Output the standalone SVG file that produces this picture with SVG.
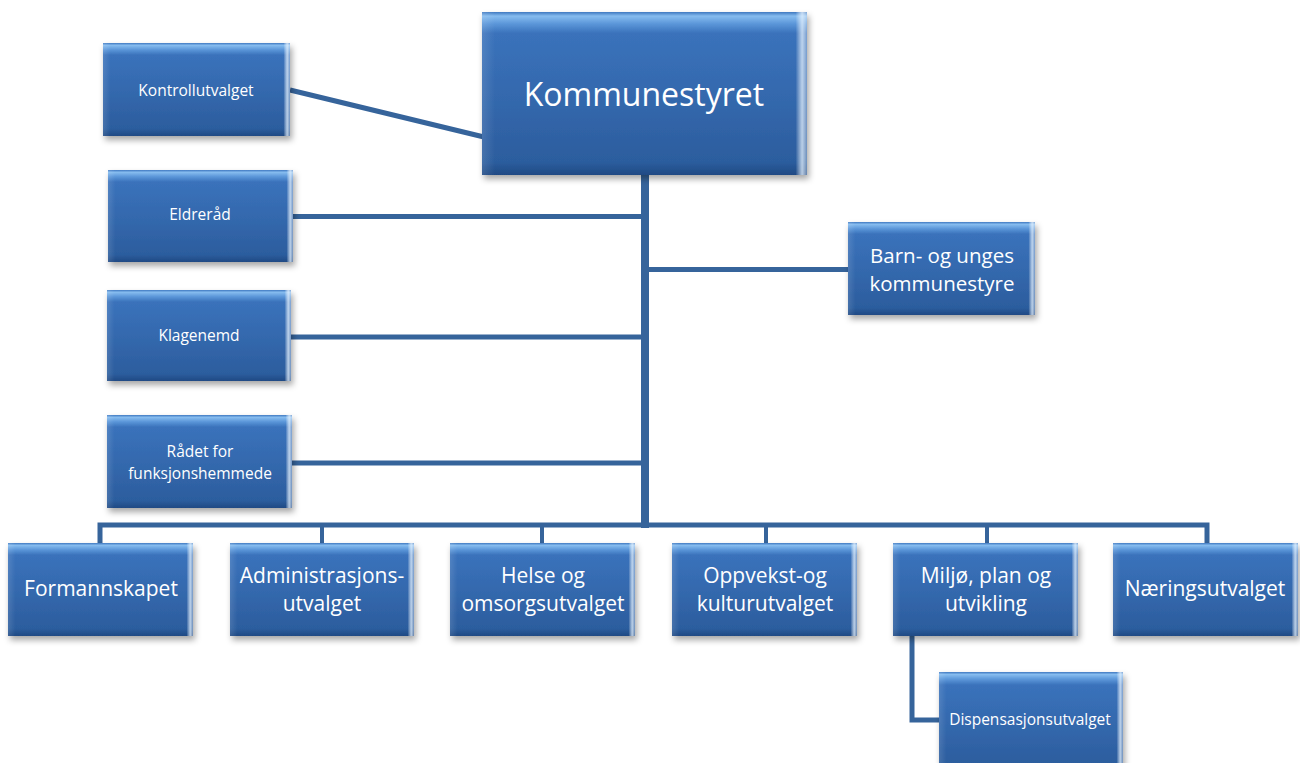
<svg xmlns="http://www.w3.org/2000/svg" width="1300" height="763" viewBox="0 0 1300 763">
<defs>
<linearGradient id="gv" x1="0" y1="0" x2="0" y2="1">
<stop offset="0" stop-color="#3f78c0"/>
<stop offset="0.025" stop-color="#86bcef"/>
<stop offset="0.07" stop-color="#5d98da"/>
<stop offset="0.13" stop-color="#3a72bb"/>
<stop offset="0.5" stop-color="#3469ae"/>
<stop offset="0.92" stop-color="#2c5d9e"/>
<stop offset="1" stop-color="#1f4a84"/>
</linearGradient>
<linearGradient id="gh" x1="0" y1="0" x2="1" y2="0">
<stop offset="0" stop-color="#ffffff" stop-opacity="0.12"/>
<stop offset="0.04" stop-color="#ffffff" stop-opacity="0"/>
<stop offset="0.965" stop-color="#ffffff" stop-opacity="0"/>
<stop offset="0.985" stop-color="#e8f4ff" stop-opacity="0.75"/>
<stop offset="1" stop-color="#ffffff" stop-opacity="0.3"/>
</linearGradient>
<filter id="sh" x="-10%" y="-10%" width="125%" height="130%">
<feDropShadow dx="2" dy="4" stdDeviation="3" flood-color="#000" flood-opacity="0.35"/>
</filter>
</defs>
<style>
.b{fill:url(#gv);filter:url(#sh)}
.h{fill:url(#gh)}
.t{fill:#fff;font-family:"Open Sans","Noto Sans",sans-serif;text-anchor:middle;dominant-baseline:central}
.s{font-size:15.5px}
.m{font-size:21px}
.l{font-size:32px}
.c{stroke:#36649b;fill:none}
</style>
<rect width="1300" height="763" fill="#fff"/>
<g id="connectors">
<line class="c" x1="290" y1="90" x2="484" y2="137" stroke-width="5"/>
<line class="c" x1="645" y1="174" x2="645" y2="528" stroke-width="8"/>
<line class="c" x1="293" y1="216.5" x2="645" y2="216.5" stroke-width="5"/>
<line class="c" x1="291" y1="337" x2="645" y2="337" stroke-width="5"/>
<line class="c" x1="292" y1="463" x2="645" y2="463" stroke-width="5"/>
<line class="c" x1="645" y1="269.5" x2="849" y2="269.5" stroke-width="5"/>
<polyline class="c" points="100,544 100,525 1207,525 1207,544" stroke-width="5"/>
<line class="c" x1="322" y1="525" x2="322" y2="544" stroke-width="4"/>
<line class="c" x1="542" y1="525" x2="542" y2="544" stroke-width="4"/>
<line class="c" x1="766" y1="525" x2="766" y2="544" stroke-width="4"/>
<line class="c" x1="987" y1="525" x2="987" y2="544" stroke-width="4"/>
<polyline class="c" points="912,634 912,720 940,720" stroke-width="5"/>
</g>
<g id="kommunestyret">
<rect class="b" x="482" y="12" width="325" height="163"/><rect class="h" x="482" y="12" width="325" height="163"/>
<text class="t l" x="644" y="93">Kommunestyret</text>
</g>
<g id="kontrollutvalget">
<rect class="b" x="103" y="43" width="187" height="93"/><rect class="h" x="103" y="43" width="187" height="93"/>
<text class="t s" x="196" y="90">Kontrollutvalget</text>
</g>
<g id="eldrerad">
<rect class="b" x="108" y="170" width="185" height="92"/><rect class="h" x="108" y="170" width="185" height="92"/>
<text class="t s" x="200" y="214">Eldreråd</text>
</g>
<g id="klagenemd">
<rect class="b" x="107" y="290" width="184" height="91"/><rect class="h" x="107" y="290" width="184" height="91"/>
<text class="t s" x="199" y="335">Klagenemd</text>
</g>
<g id="radet">
<rect class="b" x="107" y="415" width="185" height="93"/><rect class="h" x="107" y="415" width="185" height="93"/>
<text class="t s" x="200" y="451">Rådet for</text>
<text class="t s" x="200" y="473">funksjonshemmede</text>
</g>
<g id="barn">
<rect class="b" x="848" y="222" width="187" height="93"/><rect class="h" x="848" y="222" width="187" height="93"/>
<text class="t m" x="942" y="255" style="font-size:20.5px">Barn- og unges</text>
<text class="t m" x="942" y="283" style="font-size:20.5px">kommunestyre</text>
</g>
<g id="formannskapet">
<rect class="b" x="8" y="543" width="185" height="93"/><rect class="h" x="8" y="543" width="185" height="93"/>
<text class="t m" x="101" y="588">Formannskapet</text>
</g>
<g id="administrasjon">
<rect class="b" x="230" y="543" width="184" height="93"/><rect class="h" x="230" y="543" width="184" height="93"/>
<text class="t m" x="322" y="575">Administrasjons-</text>
<text class="t m" x="322" y="603">utvalget</text>
</g>
<g id="helse">
<rect class="b" x="450" y="543" width="185" height="93"/><rect class="h" x="450" y="543" width="185" height="93"/>
<text class="t m" x="543" y="575">Helse og</text>
<text class="t m" x="543" y="603">omsorgsutvalget</text>
</g>
<g id="oppvekst">
<rect class="b" x="672" y="543" width="185" height="93"/><rect class="h" x="672" y="543" width="185" height="93"/>
<text class="t m" x="765" y="575">Oppvekst-og</text>
<text class="t m" x="765" y="603">kulturutvalget</text>
</g>
<g id="miljo">
<rect class="b" x="893" y="543" width="185" height="93"/><rect class="h" x="893" y="543" width="185" height="93"/>
<text class="t m" x="986" y="575">Miljø, plan og</text>
<text class="t m" x="986" y="603">utvikling</text>
</g>
<g id="naering">
<rect class="b" x="1113" y="543" width="185" height="93"/><rect class="h" x="1113" y="543" width="185" height="93"/>
<text class="t m" x="1205" y="588">Næringsutvalget</text>
</g>
<g id="dispensasjon">
<rect class="b" x="939" y="672" width="184" height="100"/><rect class="h" x="939" y="672" width="184" height="100"/>
<text class="t s" x="1030" y="719">Dispensasjonsutvalget</text>
</g>
</svg>
